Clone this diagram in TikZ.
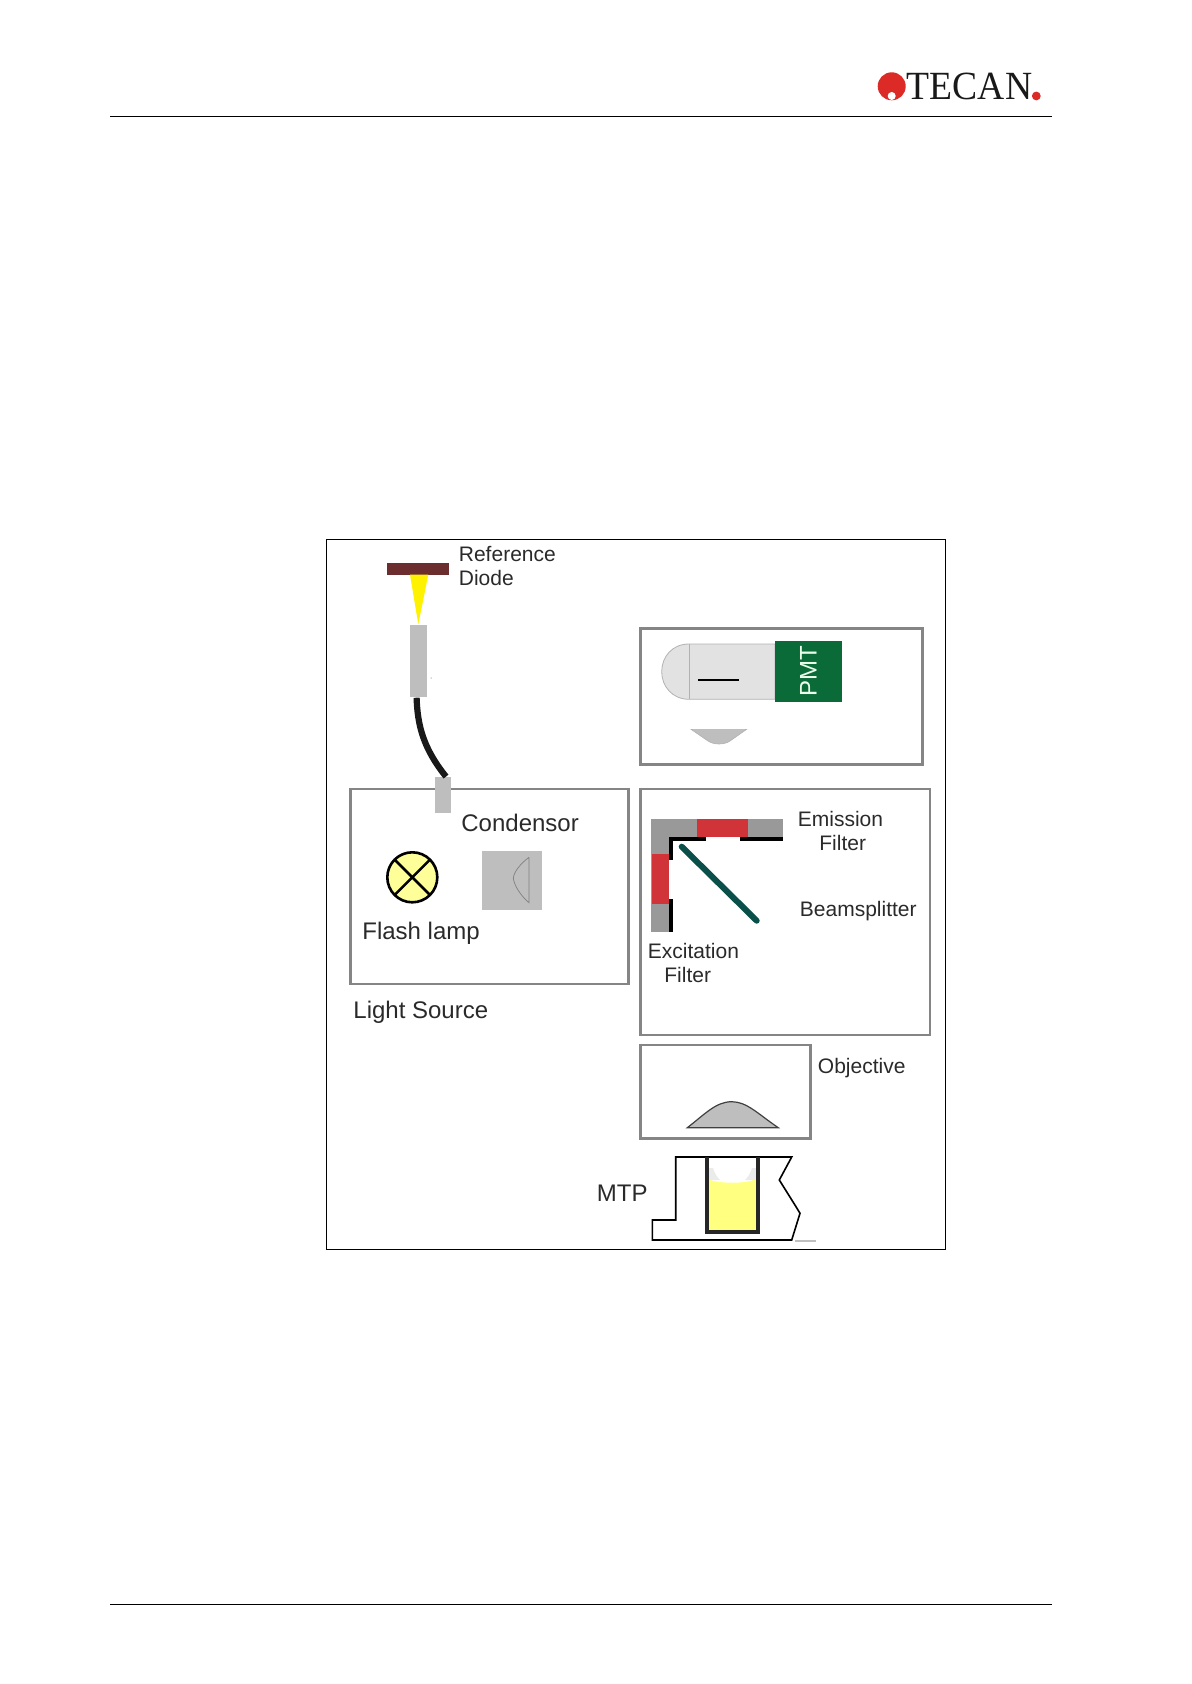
\documentclass[tikz,border=0pt]{standalone}
\usepackage{fontspec}
\setmainfont{Liberation Sans}
\newfontfamily\logofont{Liberation Serif}
\definecolor{boxgray}{HTML}{858585}
\definecolor{partgray}{HTML}{BEBEBE}
\definecolor{filtgray}{HTML}{999999}
\definecolor{filtred}{HTML}{D13438}
\definecolor{logored}{HTML}{DC2A26}
\definecolor{diodebrown}{HTML}{6B2D2D}
\definecolor{pmtgreen}{HTML}{0B6B38}
\definecolor{splitteal}{HTML}{0A4F4A}
\definecolor{lampyellow}{HTML}{FFFF99}
\definecolor{liquid}{HTML}{FFFF80}
\definecolor{tubegray}{HTML}{E2E2E2}
\definecolor{txt}{HTML}{2A2A2A}
\tikzset{
  rule/.style={line width=0.6pt,black},
  panel/.style={draw=boxgray,line width=1.25pt},
  big/.style={anchor=base west,inner sep=0pt,text=txt,font=\fontsize{12}{14}\selectfont},
  small/.style={anchor=base west,inner sep=0pt,text=txt,font=\fontsize{10.5}{12}\selectfont},
  part/.style={fill=partgray,draw=none,inner sep=0pt,minimum width=0pt},
  blackbar/.style={line width=2.1pt,black},
}
\begin{document}
\begin{tikzpicture}[x=0.5pt,y=-0.5pt]
\useasboundingbox (0,0) rectangle (1191,1684);
% header and footer
\draw[rule] (110,116.5) -- (1052,116.5);
\draw[rule] (110,1604.5) -- (1052,1604.5);
% logo
\fill[logored] (891.7,86.3) circle[radius=14];
\fill[white] (891.7,96) circle[radius=4];
\fill[logored] (1036.3,96) circle[radius=4.4];
\node[anchor=base west,inner sep=0pt,text=black!90,font=\logofont\fontsize{20}{22}\selectfont] (logotext) at (906.5,100) {\scalebox{0.94}[1]{TECAN}};
% outer frame
\draw[line width=0.5pt,black] (326.5,539.5) rectangle (945,1249);
% reference diode
\fill[diodebrown] (387.3,562.7) rectangle (449.3,574.7);
\fill[yellow] (410,574.7) -- (428.3,574.7) -- (418.3,624.3) -- cycle;
\node[small] (refa) at (458.5,561.2) {Reference};
\node[small] (refb) at (458.5,585) {Diode};
% light source
\draw[panel] (350.7,789) rectangle (628.3,984);
% fibre and ferrules
\node[part,minimum width=8.7pt,minimum height=36.3pt] (ferruleA) at (418.6,661) {};
\node[part,minimum width=8pt,minimum height=18pt] (ferruleB) at (443,795) {};
\fill[black!70] (431,678) circle[radius=0.5];
\draw[line width=3.1pt,black!90] ([xshift=-1pt]ferruleA.south) .. controls (417.5,725) and (423,748) .. ([xshift=1.5pt]ferruleB.north);
% lamp
\draw[line width=1.3pt,black,fill=lampyellow] (412.3,877.3) circle[radius=25];
\draw[line width=1.3pt,black] (394.6,859.6) -- (430,895) (430,859.6) -- (394.6,895);
% condensor
\fill[partgray] (482.3,850.7) rectangle (542.3,910);
\draw[line width=0.35pt,black!50] (529,857.3) -- (529,902.7) .. controls (520,895) and (514,885) .. (513.3,878) .. controls (514,872) and (520,864) .. (529,857.3);
\node[big] (condensor) at (461,831.7) {Condensor};
\node[big] (flash) at (362,939.5) {Flash lamp};
\node[big] (source) at (353,1018.3) {Light Source};
% PMT panel
\draw[panel] (640.7,628.7) rectangle (922.3,764.3);
\draw[draw=black!30,line width=0.4pt,fill=tubegray] (689,644) -- (775,644) -- (775,699.3) -- (689,699.3) .. controls (672,699.3) and (661.7,686) .. (661.7,671.7) .. controls (661.7,657) and (672,644) .. (689,644) -- cycle;
\draw[draw=black!30,line width=0.4pt] (689,644) -- (689,699.3);
\draw[line width=1.3pt,black] (698.3,680) -- (739.3,680);
\node[fill=pmtgreen,inner sep=0pt,minimum width=33.4pt,minimum height=30.8pt,anchor=center] (pmtbox) at (808.3,671.5) {};
\node[rotate=90,inner sep=0pt,text=white!92!green,font=\fontsize{12}{14}\selectfont] (pmt) at (pmtbox.center) {PMT};
\fill[partgray,draw=black!30,line width=0.3pt] (691,729.3) -- (746.7,729.3) -- (730,741) .. controls (724,745) and (714,745) .. (708,741) -- cycle;
% optics panel
\draw[panel] (640.7,789) rectangle (930,1035);
\fill[filtgray] (650.7,819) rectangle (782.7,837.3);
\fill[filtgray] (650.7,819) rectangle (669.3,931.7);
\fill[filtred] (696.7,819) rectangle (748.3,837.3);
\fill[filtred] (652,854) rectangle (669.3,904.3);
\draw[blackbar] (706,839.3) -- (669.3,839.3);
\draw[blackbar] (671.3,837.3) -- (671.3,860);
\draw[blackbar] (740,839.3) -- (782.7,839.3);
\draw[blackbar] (671.3,899.3) -- (671.3,931.7);
\draw[line width=3pt,splitteal,line cap=round] (681.7,846.7) -- (756.7,920.7);
\node[small] (emisa) at (797.5,826) {Emission};
\node[small] (emisb) at (819,850.7) {Filter};
\node[small] (split) at (799.5,916.7) {Beamsplitter};
\node[small] (exca) at (647.5,958.5) {Excitation};
\node[small] (excb) at (664,982.3) {Filter};
% objective
\draw[panel] (640.7,1044.8) rectangle (810.3,1138.3);
\draw[fill=partgray,draw=black!75,line width=0.6pt] (687.3,1127.7) .. controls (705,1114) and (716,1101.7) .. (731.7,1101.7) .. controls (747,1101.7) and (758,1114) .. (778.3,1127.7) -- cycle;
\node[small] (objective) at (817.5,1073.7) {Objective};
% microplate
\node[big] (mtp) at (596.5,1201) {MTP};
\draw[line width=0.8pt,black] (675.7,1157) -- (791.7,1157) -- (779.3,1180) -- (796,1206.7) -- (800,1213.3) -- (791.7,1240) -- (652.3,1240) -- (652.3,1220) -- (675.7,1220) -- cycle;
\draw[line width=0.8pt,black!25] (795,1240.7) -- (816,1240.7);
\fill[black!8] (708,1168) -- (713,1168) .. controls (715,1174) and (717,1177) .. (720,1180) -- (708,1180) -- cycle;
\fill[black!8] (756.5,1168) -- (752,1168) .. controls (750,1174) and (748,1177) .. (745,1180) -- (756.5,1180) -- cycle;
\fill[liquid] (707,1179) .. controls (720,1184) and (745,1184) .. (757,1179) -- (757,1231) -- (707,1231) -- cycle;
\draw[line width=1.9pt,black!85] (706.7,1157) -- (706.7,1231.7) -- (757.7,1231.7) -- (757.7,1157);
\end{tikzpicture}
\end{document}
